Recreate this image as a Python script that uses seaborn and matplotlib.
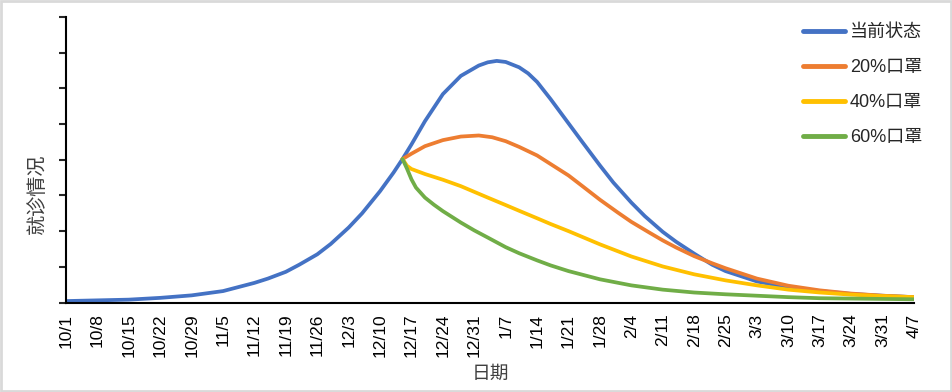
import pandas as pd
import seaborn as sns
import matplotlib.pyplot as plt
from matplotlib.patches import Rectangle

# values (y units: 0..8, one per y tick)
names = ['当前状态', '20%口罩', '40%口罩', '60%口罩']
colors = ['#4472C4', '#ED7D31', '#FFC000', '#70AD47']

blue_dates = ['10/1', '10/8', '10/15', '10/22', '10/29', '11/5', '11/12', '11/15',
              '11/19', '11/22', '11/26', '11/29', '12/3', '12/6', '12/10', '12/13',
              '12/15', '12/17', '12/20', '12/24', '12/28', '1/1', '1/3', '1/5', '1/7',
              '1/10', '1/12', '1/14', '1/17', '1/21', '1/24', '1/28', '1/31', '2/4',
              '2/7', '2/11', '2/14', '2/18', '2/22', '2/25', '3/3', '3/10', '3/17',
              '3/24', '3/31', '4/7']
blue_vals = [0.04, 0.06, 0.08, 0.13, 0.20, 0.32, 0.55, 0.67,
             0.86, 1.06, 1.35, 1.64, 2.10, 2.50, 3.12, 3.64,
             4.02, 4.43, 5.08, 5.84, 6.35, 6.64, 6.73, 6.77, 6.74,
             6.59, 6.42, 6.18, 5.70, 5.02, 4.51, 3.84, 3.36, 2.80,
             2.42, 1.98, 1.70, 1.37, 1.06, 0.88, 0.59, 0.42, 0.32,
             0.24, 0.19, 0.15]

orange_dates = ['12/15', '12/17', '12/20', '12/24', '12/28', '1/1', '1/4', '1/7',
                '1/10', '1/14', '1/17', '1/21', '1/24', '1/28', '2/1', '2/4', '2/8',
                '2/11', '2/14', '2/18', '2/22', '2/25', '3/3', '3/10', '3/17', '3/24',
                '3/31', '4/7']
orange_vals = [4.02, 4.17, 4.38, 4.55, 4.65, 4.68, 4.63, 4.52,
               4.36, 4.12, 3.88, 3.56, 3.27, 2.88, 2.52, 2.26, 1.96,
               1.74, 1.54, 1.30, 1.10, 0.96, 0.67, 0.47, 0.34, 0.25,
               0.19, 0.15]

yellow_dates = ['12/15', '12/16', '12/17', '12/20', '12/24', '12/28', '12/31', '1/3',
                '1/7', '1/10', '1/14', '1/17', '1/21', '1/28', '2/4', '2/11', '2/18',
                '2/25', '3/3', '3/10', '3/17', '3/24', '3/31', '4/7']
yellow_vals = [4.02, 3.83, 3.74, 3.60, 3.44, 3.26, 3.10, 2.94,
               2.73, 2.57, 2.36, 2.20, 2.00, 1.63, 1.29, 1.01, 0.79,
               0.62, 0.48, 0.36, 0.28, 0.22, 0.18, 0.15]

green_dates = ['12/15', '12/16', '12/17', '12/18', '12/20', '12/22', '12/24', '12/28',
               '12/31', '1/3', '1/7', '1/10', '1/14', '1/17', '1/21', '1/28', '2/4',
               '2/11', '2/18', '2/25', '3/3', '3/10', '3/17', '3/24', '3/31', '4/7']
green_vals = [4.02, 3.75, 3.45, 3.22, 2.94, 2.74, 2.56, 2.24,
              2.02, 1.82, 1.55, 1.38, 1.18, 1.04, 0.88, 0.65, 0.48,
              0.36, 0.28, 0.23, 0.19, 0.15, 0.12, 0.11, 0.10, 0.09]


def to_dt(labels):
    out = []
    for s in labels:
        m, d = [int(p) for p in s.split('/')]
        out.append(pd.Timestamp(2023 if m >= 10 else 2024, m, d))
    return out


frames = []
for name, d, v in zip(names, [blue_dates, orange_dates, yellow_dates, green_dates],
                      [blue_vals, orange_vals, yellow_vals, green_vals]):
    frames.append(pd.DataFrame({'date': to_dt(d), 'value': v, 'series': name}))
df = pd.concat(frames, ignore_index=True)

sns.set_style('white')
plt.rcParams['font.family'] = ['Liberation Sans', 'Noto Sans CJK SC']

fig, ax = plt.subplots(figsize=(9.53, 3.92), dpi=100)
fig.subplots_adjust(left=66 / 953, right=914 / 953, bottom=(392 - 302.5) / 392, top=(392 - 17) / 392)

sns.lineplot(data=df, x='date', y='value', hue='series', hue_order=names,
             palette=colors, linewidth=2.7, estimator=None, ax=ax)
for line in ax.get_lines():
    line.set_solid_joinstyle('round')
    line.set_solid_capstyle('round')

start, end = pd.Timestamp(2023, 10, 1), pd.Timestamp(2024, 4, 7)
ticks = pd.date_range(start, end, freq='7D')
ax.set_xlim(start, end)
ax.set_xticks(ticks)
ax.set_xticklabels([f'{t.month}/{t.day}' for t in ticks], rotation=90, fontsize=12.5)
ax.set_ylim(0, 8)
ax.set_yticks(range(9))
ax.set_yticklabels([])

sns.despine(ax=ax)
for sp in ['left', 'bottom']:
    ax.spines[sp].set_color('black')
    ax.spines[sp].set_linewidth(1.5)
ax.tick_params(axis='x', direction='in', length=5, width=1.5, pad=8, colors='black')
ax.tick_params(axis='y', direction='out', length=5, width=1.5, left=True)

ax.set_xlabel('日期', fontsize=13.5, color='#404040')
ax.xaxis.set_label_coords(0.5, (302.5 - 366) / 285.5)
ax.set_ylabel('就诊情况', fontsize=14.5, color='#404040')
ax.yaxis.set_label_coords((47 - 66) / 848, (302.5 - 194) / 285.5)

handles, labels = ax.get_legend_handles_labels()
leg = ax.legend(handles, labels, loc='upper left', bbox_to_anchor=(803 / 953, (392 - 24) / 392),
                bbox_transform=fig.transFigure, frameon=False, fontsize=13,
                handlelength=2.3, handletextpad=0.3, labelspacing=1.0,
                borderpad=0, borderaxespad=0)
for line in leg.get_lines():
    line.set_linewidth(3.5)

fig.add_artist(Rectangle((0.001, 0.002), 0.997, 0.995, transform=fig.transFigure,
                         fill=False, edgecolor='#d9d9d9', linewidth=2))

fig.savefig('out.png', dpi=100)
